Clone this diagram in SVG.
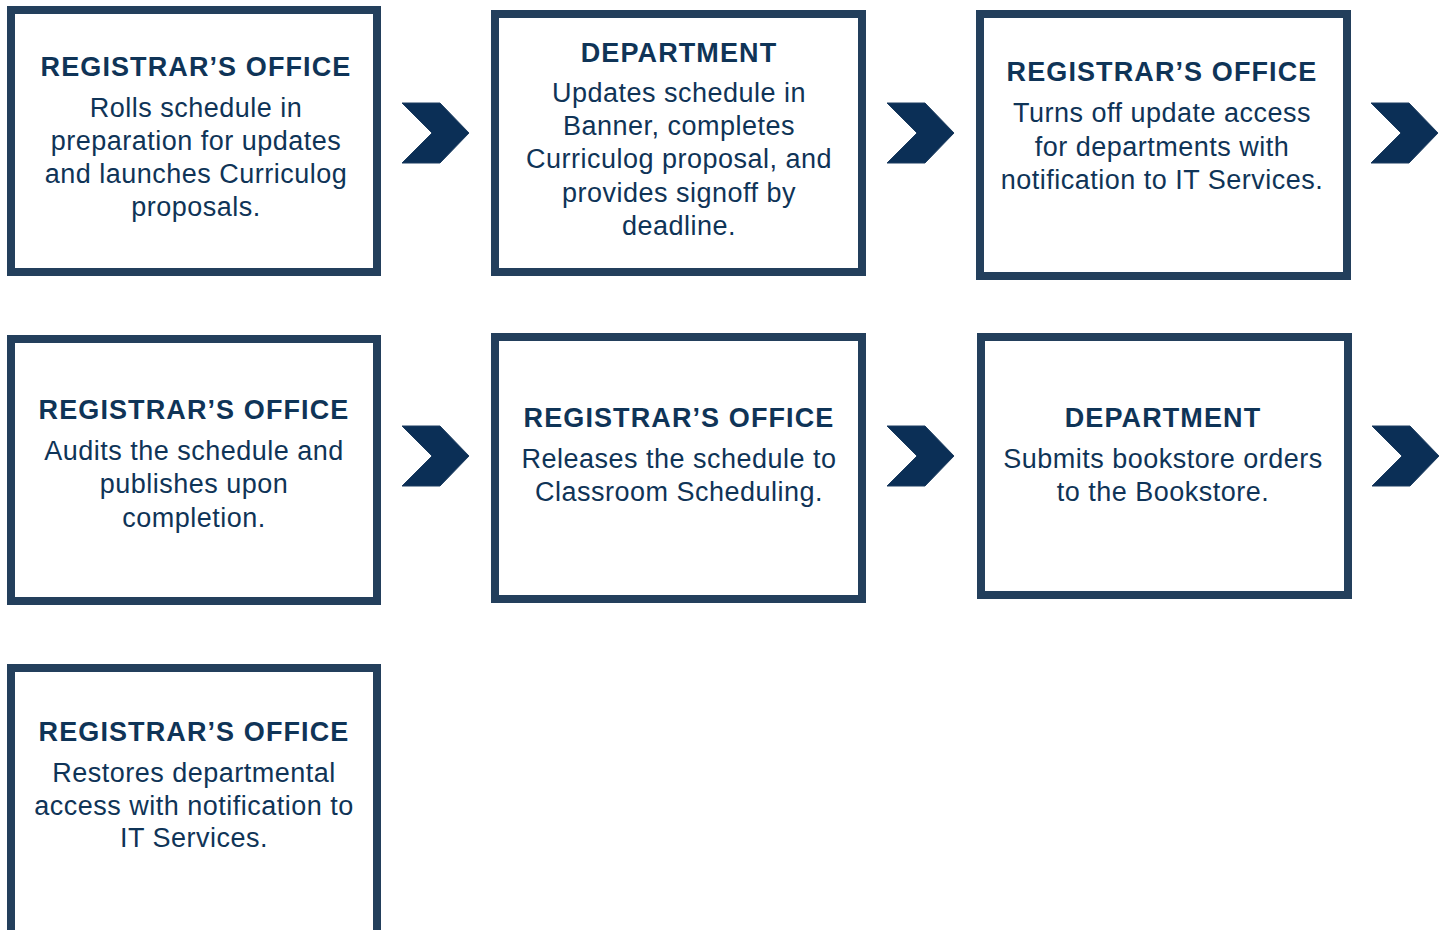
<svg xmlns="http://www.w3.org/2000/svg" width="1439" height="930" viewBox="0 0 1439 930">
<style>
.box{fill:#ffffff;stroke:#233f5c;stroke-width:8}
.hd{font-family:"Liberation Sans",Arial,sans-serif;font-weight:bold;font-size:27px;letter-spacing:1.1px;fill:#0f3457;text-anchor:middle}
.bd{font-family:"Liberation Sans",Arial,sans-serif;font-size:27px;letter-spacing:0.5px;fill:#0f3457;text-anchor:middle}
.chev{fill:#0b2f56;stroke:#1d3d60;stroke-width:1}
</style>
<defs>
<path id="chev" d="M0,0 L38,0 L67,30 L38,60 L0,60 L30,30 Z"/>
</defs>
<rect width="1439" height="930" fill="#ffffff"/>
<g id="connectors">
<use href="#chev" class="chev" x="402" y="103"/>
<use href="#chev" class="chev" x="887" y="103"/>
<use href="#chev" class="chev" x="1371" y="103"/>
<use href="#chev" class="chev" x="402" y="426"/>
<use href="#chev" class="chev" x="887" y="426"/>
<use href="#chev" class="chev" x="1372" y="426"/>
</g>
<g id="node1">
<rect class="box" x="11" y="10" width="366" height="262"/>
<text class="hd" x="196" y="76">REGISTRAR’S OFFICE</text>
<text class="bd" x="196" y="117">Rolls schedule in</text>
<text class="bd" x="196" y="150">preparation for updates</text>
<text class="bd" x="196" y="183">and launches Curriculog</text>
<text class="bd" x="196" y="216">proposals.</text>
</g>
<g id="node2">
<rect class="box" x="495" y="14" width="367" height="258"/>
<text class="hd" x="679" y="62">DEPARTMENT</text>
<text class="bd" x="679" y="102">Updates schedule in</text>
<text class="bd" x="679" y="135">Banner, completes</text>
<text class="bd" x="679" y="168">Curriculog proposal, and</text>
<text class="bd" x="679" y="202">provides signoff by</text>
<text class="bd" x="679" y="235">deadline.</text>
</g>
<g id="node3">
<rect class="box" x="980" y="14" width="367" height="262"/>
<text class="hd" x="1162" y="81">REGISTRAR’S OFFICE</text>
<text class="bd" x="1162" y="122">Turns off update access</text>
<text class="bd" x="1162" y="156">for departments with</text>
<text class="bd" x="1162" y="189">notification to IT Services.</text>
</g>
<g id="node4">
<rect class="box" x="11" y="339" width="366" height="262"/>
<text class="hd" x="194" y="419">REGISTRAR’S OFFICE</text>
<text class="bd" x="194" y="460">Audits the schedule and</text>
<text class="bd" x="194" y="493">publishes upon</text>
<text class="bd" x="194" y="527">completion.</text>
</g>
<g id="node5">
<rect class="box" x="495" y="337" width="367" height="262"/>
<text class="hd" x="679" y="427">REGISTRAR’S OFFICE</text>
<text class="bd" x="679" y="468">Releases the schedule to</text>
<text class="bd" x="679" y="501">Classroom Scheduling.</text>
</g>
<g id="node6">
<rect class="box" x="981" y="337" width="367" height="258"/>
<text class="hd" x="1163" y="427">DEPARTMENT</text>
<text class="bd" x="1163" y="468">Submits bookstore orders</text>
<text class="bd" x="1163" y="501">to the Bookstore.</text>
</g>
<g id="node7">
<rect class="box" x="11" y="668" width="366" height="272"/>
<text class="hd" x="194" y="741">REGISTRAR’S OFFICE</text>
<text class="bd" x="194" y="782">Restores departmental</text>
<text class="bd" x="194" y="815">access with notification to</text>
<text class="bd" x="194" y="847">IT Services.</text>
</g>
</svg>
